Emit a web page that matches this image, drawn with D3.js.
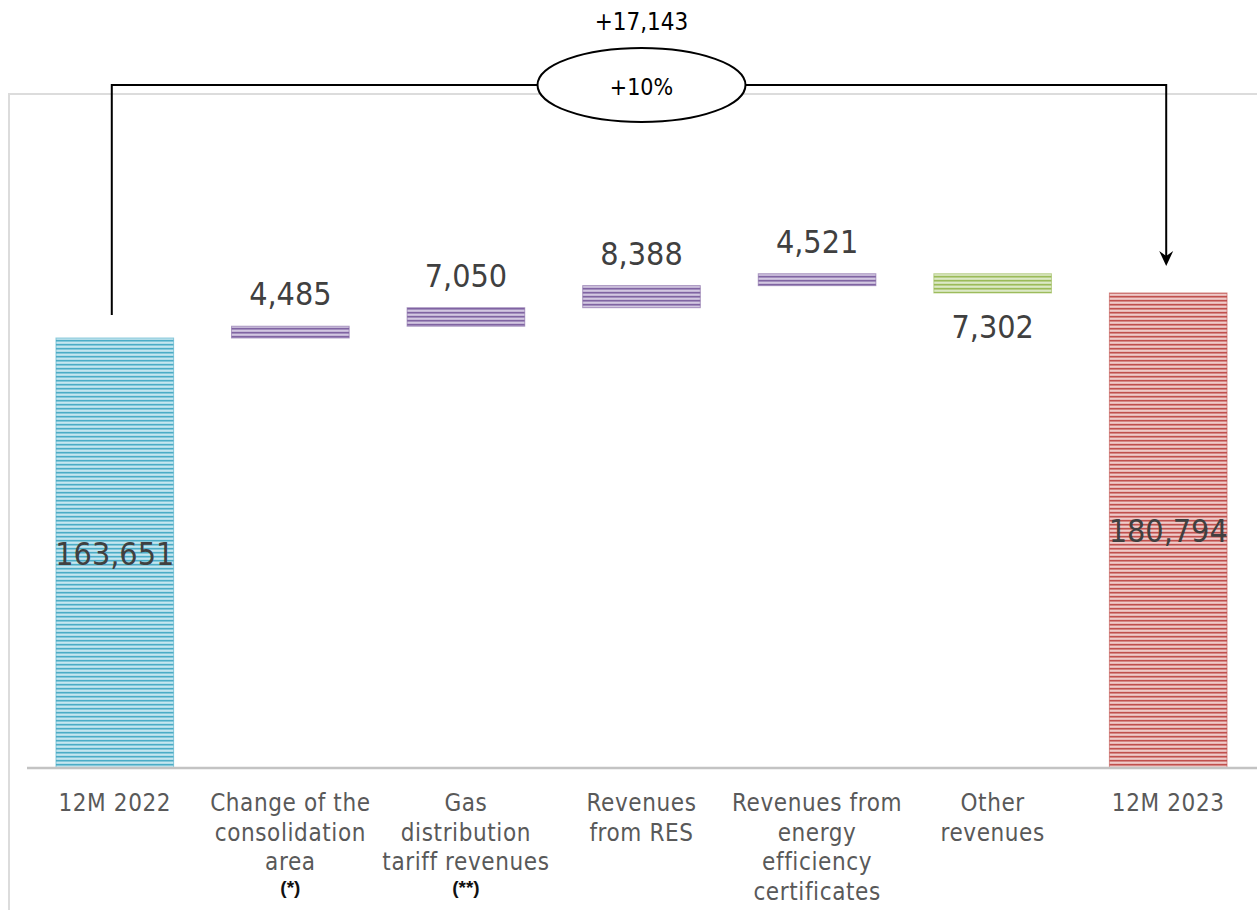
<!DOCTYPE html>
<html>
<head>
<meta charset="utf-8">
<script src="https://cdn.jsdelivr.net/npm/d3@7"></script>
<style>
  html, body { margin: 0; padding: 0; background: #ffffff; }
  svg { display: block; }
</style>
</head>
<body>
<svg id="chart" width="1257" height="910"></svg>
<script>
// ---- data ----
const categories = [
  "12M 2022",
  "Change of the consolidation area",
  "Gas distribution tariff revenues",
  "Revenues from RES",
  "Revenues from energy efficiency certificates",
  "Other revenues",
  "12M 2023"
];
const categoryLines = [
  ["12M 2022"],
  ["Change of the", "consolidation", "area"],
  ["Gas", "distribution", "tariff revenues"],
  ["Revenues", "from RES"],
  ["Revenues from", "energy", "efficiency", "certificates"],
  ["Other", "revenues"],
  ["12M 2023"]
];
const footnotes = ["", "(*)", "(**)", "", "", "", ""];
const values = [163651, 4485, 7050, 8388, 4521, -7302, 180794];
const barTypes = ["total", "delta", "delta", "delta", "delta", "delta", "total"];
const barColors = ["cyan", "purple", "purple", "purple", "purple", "green", "red"];
const totalChangeLabel = "+17,143";
const totalChangePct = "+10%";
const yDomain = [0, 200000];

// ---- styles ----
const palette = {
  cyan:   { dark: "#4bacc6", mid: "#92cfdf", light: "#d2ecf3" },
  purple: { dark: "#8064a2", mid: "#ab98c4", light: "#ddd4e8" },
  green:  { dark: "#9bbb59", mid: "#bfd595", light: "#e4eed3" },
  red:    { dark: "#c0504d", mid: "#db9593", light: "#f4d8d7" }
};
const FONT = "'DejaVu Sans Condensed', 'DejaVu Sans', sans-serif";

const svg = d3.select("#chart");
const defs = svg.append("defs");
Object.entries(palette).forEach(([k, c]) => {
  const p = defs.append("pattern")
    .attr("id", "stripe-" + k)
    .attr("patternUnits", "userSpaceOnUse")
    .attr("width", 8).attr("height", 4);
  p.append("rect").attr("x", 0).attr("y", 0).attr("width", 8).attr("height", 4).attr("fill", c.mid);
  p.append("rect").attr("x", 0).attr("y", 0).attr("width", 8).attr("height", 1.2).attr("fill", c.dark);
  p.append("rect").attr("x", 0).attr("y", 2.2).attr("width", 8).attr("height", 1.3).attr("fill", c.light);
});

// frame
svg.append("rect")
  .attr("x", 9).attr("y", 94).attr("width", 1400).attr("height", 1000)
  .attr("fill", "none").attr("stroke", "#dcdcdc").attr("stroke-width", 2);

// scales
const x = d3.scaleBand().domain(categories).range([27, 1256]).paddingInner(0.33).paddingOuter(0.165);
const y = d3.scaleLinear().domain(yDomain).range([768, 242.5]);

// compute waterfall
let running = 0;
const bars = categories.map((c, i) => {
  let y0, y1;
  if (barTypes[i] === "total") {
    y0 = 0; y1 = values[i]; running = values[i];
  } else {
    y0 = running; y1 = running + values[i]; running = y1;
  }
  return { cat: c, i, v: values[i], lo: Math.min(y0, y1), hi: Math.max(y0, y1), type: barTypes[i], color: barColors[i] };
});

// bars
svg.append("g").selectAll("rect").data(bars).join("rect")
  .attr("x", d => x(d.cat))
  .attr("width", x.bandwidth())
  .attr("y", d => y(d.hi))
  .attr("height", d => y(d.lo) - y(d.hi))
  .attr("fill", d => `url(#stripe-${d.color})`)
  .attr("stroke", d => palette[d.color].dark)
  .attr("stroke-opacity", 0.6)
  .attr("stroke-width", 1);

// axis
const axis = svg.append("g")
  .attr("transform", `translate(0,${y(0)})`)
  .call(d3.axisBottom(x).tickSize(0).tickSizeOuter(0).tickFormat(""));
axis.select(".domain").attr("stroke", "#c3c3c3").attr("stroke-width", 2.5)
  .attr("d", `M${x.range()[0]},0H1257`);
axis.selectAll(".tick").each(function(d, i) {
  const t = d3.select(this).select("text")
    .attr("y", 0).attr("dy", null)
    .attr("font-family", FONT).attr("font-size", 24).attr("fill", "#595959")
    .attr("letter-spacing", 0.6)
    .attr("text-anchor", "middle");
  categoryLines[i].forEach((ln, j) => {
    t.append("tspan").attr("x", 0).attr("y", 43 + j * 29.7).text(ln);
  });
  if (footnotes[i]) {
    d3.select(this).append("text")
      .attr("x", 0).attr("y", 43 + categoryLines[i].length * 29.7 - 6)
      .attr("text-anchor", "middle")
      .attr("font-family", "'Liberation Sans Narrow', 'Liberation Sans', sans-serif")
      .attr("font-weight", "bold")
      .attr("font-size", 19).attr("fill", "#111")
      .text(footnotes[i]);
  }
});

// value labels
const fmt = d3.format(",");
svg.append("g").selectAll("text").data(bars).join("text")
  .attr("x", d => x(d.cat) + x.bandwidth() / 2)
  .attr("y", d => {
    if (d.type === "total") return (y(d.lo) + y(d.hi)) / 2 + 12;
    if (d.v >= 0) return y(d.hi) - 21;
    return y(d.lo) + 45;
  })
  .attr("text-anchor", "middle")
  .attr("font-family", FONT)
  .attr("font-size", 32)
  .attr("fill", "#404040")
  .text(d => fmt(Math.abs(d.v)));

// bracket annotation
const first = bars[0], last = bars[bars.length - 1];
const xs = x(first.cat) + x.bandwidth() / 2 - 3;
const xe = x(last.cat) + x.bandwidth() / 2 - 2;
const ys = y(first.hi) - 23;
const ye = y(last.hi) - 27;
const yTop = 85;
const cx = (x(categories[3]) + x.bandwidth() / 2);
const rx = 104, ry = 37;
svg.append("path")
  .attr("d", `M${xs},${ys}V${yTop}H${cx - rx}M${cx + rx},${yTop}H${xe}V${ye - 8}`)
  .attr("fill", "none").attr("stroke", "#000").attr("stroke-width", 2);
svg.append("path")
  .attr("d", `M${xe},${ye}L${xe - 7},${ye - 15}L${xe},${ye - 10}L${xe + 7},${ye - 15}Z`)
  .attr("fill", "#000");
svg.append("ellipse")
  .attr("cx", cx).attr("cy", yTop).attr("rx", rx).attr("ry", ry)
  .attr("fill", "#fff").attr("stroke", "#000").attr("stroke-width", 2);
svg.append("text")
  .attr("x", cx).attr("y", yTop + 10)
  .attr("text-anchor", "middle").attr("font-family", FONT)
  .attr("font-size", 23).attr("fill", "#000")
  .text(totalChangePct);
svg.append("text")
  .attr("x", cx).attr("y", 30)
  .attr("text-anchor", "middle").attr("font-family", FONT)
  .attr("font-size", 24).attr("fill", "#000")
  .text(totalChangeLabel);
</script>
</body>
</html>
